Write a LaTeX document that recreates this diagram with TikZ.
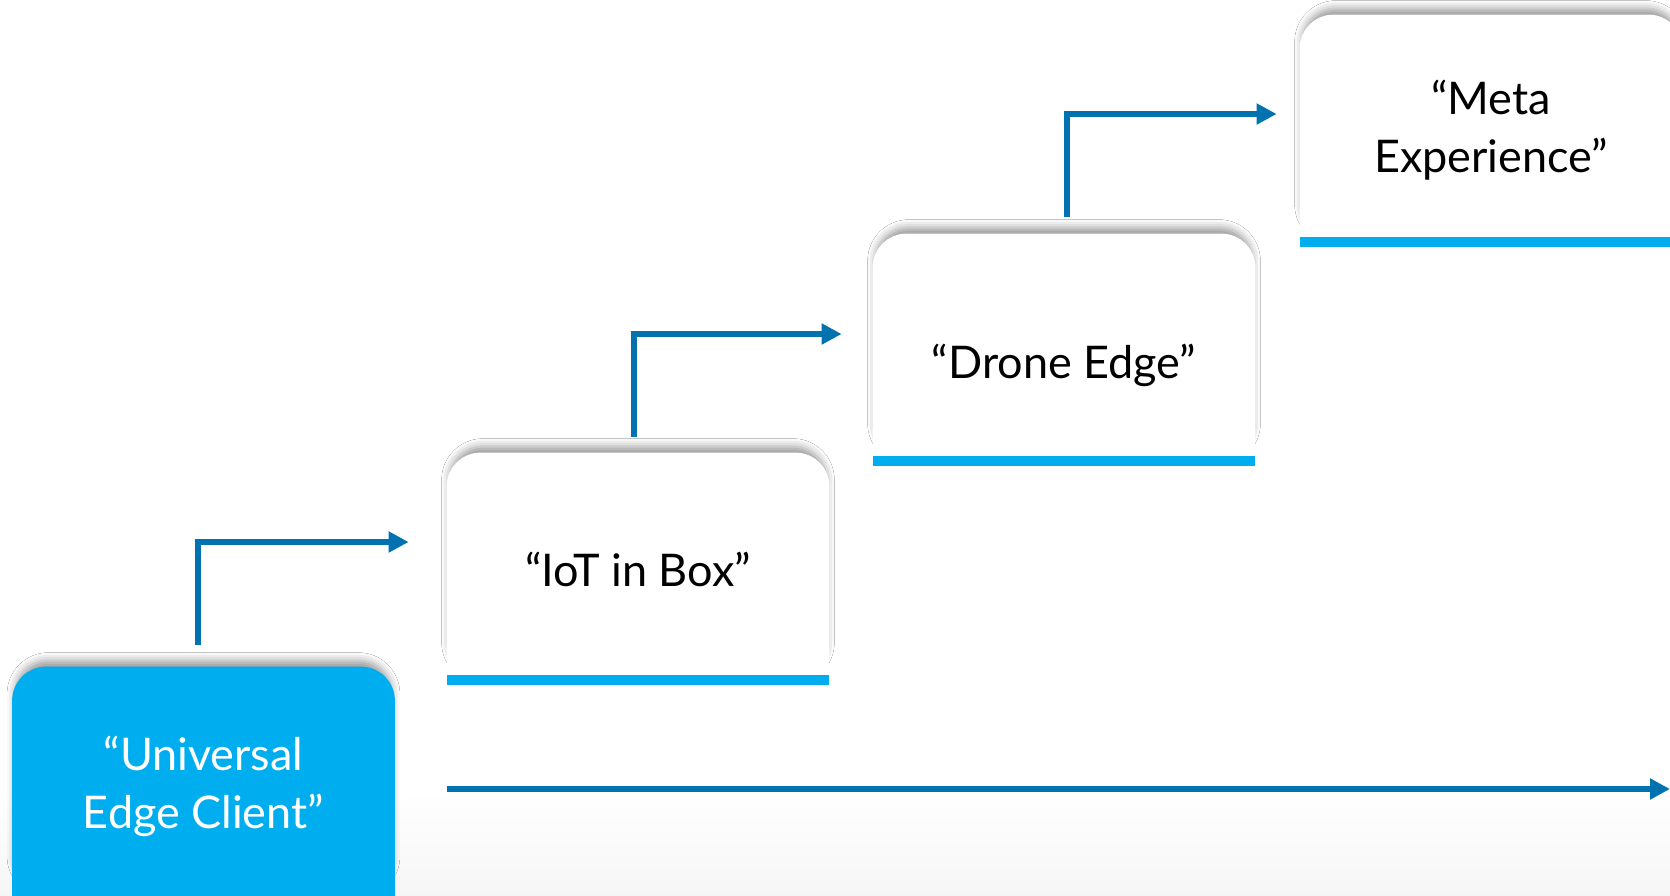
\documentclass[tikz,border=0pt]{standalone}
\usepackage{fontspec}
\setmainfont{Lato}
\usetikzlibrary{arrows.meta,shadows.blur,backgrounds,calc}
\definecolor{cyanbox}{RGB}{0,174,239}
\definecolor{arrowblue}{RGB}{0,114,176}
\tikzset{
  card/.style={minimum width=191pt, minimum height=116pt, inner sep=0pt},
  cardtext/.style={inner sep=0pt, align=center,
    font=\fontsize{22.5}{29}\selectfont, text=black},
  cardshadow/.style={blur shadow={shadow xshift=0pt, shadow yshift=4pt,
    shadow blur radius=4pt, shadow opacity=40, shadow scale=0.985}},
  flow/.style={draw=arrowblue, line width=3pt, -{Triangle[length=10pt,width=10pt]}},
}
\newcommand{\cardbody}[2]{%
  \fill[#2, cardshadow, rounded corners=17pt] (#1.south west) rectangle (#1.north east);
  \fill[#2] (#1.south west) rectangle (#1.east);
}
\begin{document}
\begin{tikzpicture}[x=0.5pt,y=-0.5pt]
\useasboundingbox (0,0) rectangle (1670,895);

% stages
\node[card] (uec) at (203.5,783) {};
\node[card] (iot) at (638,569) {};
\node[card] (drone) at (1064,350) {};
\node[card] (meta) at (1491,131) {};

\node[cardtext, text=white] (uect) at ($(uec)+(0,3)$) {“Universal\\Edge Client”};
\node[cardtext] (iott) at ($(iot)+(0,0)$) {“IoT in Box”};
\node[cardtext] (dronet) at ($(drone)+(0,15)$) {“Drone Edge”};
\node[cardtext] (metat) at ($(meta)+(0,-1)$) {“Meta\\Experience”};

\begin{scope}[on background layer]
  \fill[white] (0,0) rectangle (1670,895);
  \shade[top color=white, bottom color=gray!7] (0,790) rectangle (1670,895);
  \cardbody{uec}{cyanbox}
  \cardbody{iot}{white}
  \cardbody{drone}{white}
  \cardbody{meta}{white}
  \foreach \n in {iot,drone,meta}
    \fill[cyanbox] (\n.south west) rectangle ([yshift=5pt]\n.south east);
\end{scope}

% step connectors
\draw[flow] ($(uec.north)+(-5.5,-22)$) |- ($(iot.west)+(-38,-27)$);
\draw[flow] ($(iot.north)+(-4,-16)$) |- ($(drone.west)+(-31,-16)$);
\draw[flow] ($(drone.north)+(3,-17)$) |- ($(meta.west)+(-23,-17)$);

% time line
\coordinate (timeend) at (1670,789);
\draw[flow] (iot.south west |- timeend) -- (timeend);
\end{tikzpicture}
\end{document}
